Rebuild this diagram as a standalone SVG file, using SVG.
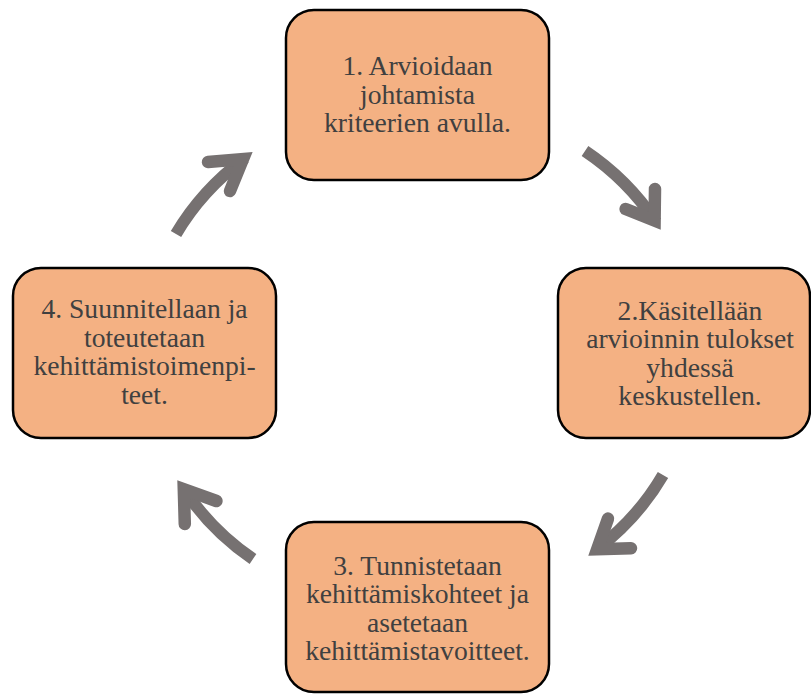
<svg xmlns="http://www.w3.org/2000/svg" width="811" height="695" viewBox="0 0 811 695">
<style>
.box{fill:#F4B183;stroke:#000;stroke-width:2.5}
.t{font-family:"Liberation Serif","Times New Roman",serif;font-size:27.6px;fill:#404040;text-anchor:middle}
.shaft{fill:none;stroke:#767171;stroke-width:12;stroke-linecap:butt}
.head{fill:none;stroke:#767171;stroke-width:12.5;stroke-linecap:round;stroke-linejoin:miter;stroke-miterlimit:6}
</style>
<rect width="811" height="695" fill="#fff"/>
<g id="connectors">
<path class="shaft" d="M176,234 Q201.5,190.5 245,158"/>
<path class="head" d="M208,162 L243,159 L230,191"/>
<path class="shaft" d="M585,151 Q627.5,179.4 656,222"/>
<path class="head" d="M655,189 L654.6,220.5 L625.6,209"/>
<path class="shaft" d="M663,475 Q638,518 596,550"/>
<path class="head" d="M608,518.6 L597.2,549.3 L631,548.2"/>
<path class="shaft" d="M253,559 Q211,530.5 183,488"/>
<path class="head" d="M184.8,524 L183.8,489.2 L216.4,501"/>
</g>
<g id="node1">
<rect class="box" x="286" y="10" width="263" height="170" rx="28"/>
<text class="t" x="417.5" y="75">1. Arvioidaan</text>
<text class="t" x="417.5" y="103.5">johtamista</text>
<text class="t" x="417.5" y="132">kriteerien avulla.</text>
</g>
<g id="node2">
<rect class="box" x="558" y="268" width="252" height="170" rx="28"/>
<text class="t" x="690" y="320">2.Käsitellään</text>
<text class="t" x="690" y="348">arvioinnin tulokset</text>
<text class="t" x="690" y="377">yhdessä</text>
<text class="t" x="690" y="405">keskustellen.</text>
</g>
<g id="node3">
<rect class="box" x="286" y="522" width="263" height="170" rx="28"/>
<text class="t" x="417.5" y="575">3. Tunnistetaan</text>
<text class="t" x="417.5" y="603">kehittämiskohteet ja</text>
<text class="t" x="417.5" y="632">asetetaan</text>
<text class="t" x="417.5" y="660">kehittämistavoitteet.</text>
</g>
<g id="node4">
<rect class="box" x="13" y="268" width="263" height="170" rx="28"/>
<text class="t" x="144.5" y="318">4. Suunnitellaan ja</text>
<text class="t" x="144.5" y="347">toteutetaan</text>
<text class="t" x="144.5" y="375">kehittämistoimenpi-</text>
<text class="t" x="144.5" y="404">teet.</text>
</g>
</svg>
